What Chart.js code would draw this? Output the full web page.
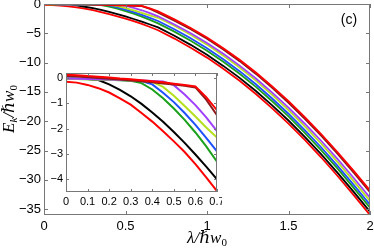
<!DOCTYPE html>
<html>
<head>
<meta charset="utf-8">
<script src="https://cdn.jsdelivr.net/npm/chart.js@4.4.1/dist/chart.umd.min.js"></script>
<style>
html, body { margin: 0; padding: 0; background: #fff; }
#wrap { position: relative; width: 374px; height: 250px; }
#mainChart { position: absolute; left: 0; top: 0; }
#insetChart { position: absolute; left: 40px; top: 68px; }
</style>
</head>
<body>
<div id="wrap">
  <canvas id="mainChart" width="374" height="250"></canvas>
  <canvas id="insetChart" width="182" height="145"></canvas>
</div>
<script>
// lambda / (hbar w0)
const lam = [0, 0.05, 0.1, 0.15, 0.2, 0.25, 0.3, 0.35, 0.4, 0.45, 0.5, 0.55, 0.6, 0.65, 0.7,
             0.8, 0.9, 1.0, 1.1, 1.2, 1.3, 1.4, 1.5, 1.6, 1.7, 1.8, 1.9, 2.0];

// E_k / (hbar w0), one array per curve
const redTop = [0.13, 0.11, 0.08, 0.05, 0.02, -0.02, -0.05, -0.09, -0.13, -0.17, -0.22, -0.27, -0.33, -0.75, -1.27,
                -2.62, -4.1, -5.72, -7.54, -9.51, -11.69, -14.06, -16.58, -19.31, -22.18, -25.25, -28.48, -31.8];
const brown = [0.08, 0.06, 0.03, 0.0, -0.03, -0.06, -0.1, -0.13, -0.17, -0.21, -0.25, -0.3, -0.37, -0.85, -1.47,
               -2.83, -4.31, -5.94, -7.77, -9.75, -11.93, -14.32, -16.85, -19.58, -22.46, -25.54, -28.77, -32.1];
const purple = [-0.02, -0.03, -0.04, -0.05, -0.06, -0.07, -0.08, -0.1, -0.12, -0.14, -0.28, -0.65, -1.07, -1.55, -2.1,
                -3.49, -4.99, -6.65, -8.5, -10.51, -12.71, -15.12, -17.67, -20.43, -23.33, -26.44, -29.69, -33.05];
const yellow = [-0.03, -0.04, -0.05, -0.06, -0.07, -0.08, -0.1, -0.12, -0.15, -0.35, -0.7, -1.1, -1.52, -1.95, -2.35,
                -3.71, -5.24, -6.93, -8.81, -10.84, -13.07, -15.51, -18.09, -20.87, -23.8, -26.94, -30.22, -33.6];
const blue = [-0.02, -0.03, -0.04, -0.05, -0.06, -0.08, -0.1, -0.12, -0.25, -0.58, -0.95, -1.38, -1.85, -2.36, -2.9,
              -4.32, -5.85, -7.54, -9.42, -11.46, -13.7, -16.13, -18.72, -21.51, -24.44, -27.58, -30.86, -34.25];
const green = [-0.03, -0.04, -0.05, -0.06, -0.07, -0.09, -0.11, -0.2, -0.45, -0.8, -1.2, -1.65, -2.15, -2.7, -3.3,
               -4.72, -6.27, -7.96, -9.86, -11.9, -14.14, -16.59, -19.18, -21.97, -24.92, -28.06, -31.36, -34.75];
const black = [-0.03, -0.03, -0.04, -0.08, -0.25, -0.47, -0.72, -1.02, -1.36, -1.73, -2.13, -2.56, -3.02, -3.5, -4.0,
               -5.42, -6.97, -8.66, -10.56, -12.6, -14.84, -17.29, -19.88, -22.67, -25.62, -28.76, -32.06, -35.45];
const redLow = [-0.15, -0.18, -0.27, -0.4, -0.57, -0.8, -1.05, -1.38, -1.72, -2.1, -2.5, -2.92, -3.4, -3.92, -4.47,
                -5.9, -7.45, -9.15, -11.05, -13.1, -15.35, -17.8, -20.4, -23.2, -26.15, -29.3, -32.6, -36.0];

// tick labels
const mainXTicks = [0, 0.5, 1, 1.5, 2];
const mainYTicks = [0, -5, -10, -15, -20, -25, -30, -35];
const insetXTicks = [0, 0.1, 0.2, 0.3, 0.4, 0.5, 0.6, 0.7];
const insetYTicks = [0, -1, -2, -3, -4];

const curves = [
  [redTop, '#ff0000'],
  [brown, '#8c1a1a'],
  [purple, '#a040ff'],
  [yellow, '#b4e01e'],
  [blue, '#1e50ff'],
  [green, '#1aa01a'],
  [black, '#000000'],
  [redLow, '#ff0000']
];

function makeDatasets(width) {
  return curves.map(c => ({
    data: lam.map((x, i) => ({ x: x, y: c[0][i] })),
    borderColor: c[1],
    borderWidth: width,
    pointRadius: 0,
    tension: 0,
    fill: false
  }));
}

function fmt(v) {
  return String(v).replace('-', '\u2212');
}

const sans = '"Liberation Sans", Arial, Helvetica, sans-serif';
const serif = '"Liberation Serif", "DejaVu Serif", serif';

// box round the plot with ticks pointing inwards
const boxTicks = {
  id: 'boxTicks',
  beforeDatasetsDraw(chart, args, opts) {
    if (!opts.fill) return;
    const a = chart.chartArea, ctx = chart.ctx;
    ctx.save();
    ctx.fillStyle = '#fff';
    ctx.fillRect(a.left, a.top, a.right - a.left, a.bottom - a.top);
    ctx.restore();
  },
  afterDraw(chart, args, opts) {
    const { ctx, chartArea: a, scales } = chart;
    const len = opts.len || 4;
    ctx.save();
    ctx.strokeStyle = '#777';
    ctx.lineWidth = 1;
    ctx.strokeRect(Math.round(a.left) + 0.5, Math.round(a.top) + 0.5,
                   Math.round(a.right - a.left) - 1, Math.round(a.bottom - a.top) - 1);
    ctx.beginPath();
    scales.x.ticks.forEach(t => {
      const px = Math.round(scales.x.getPixelForValue(t.value)) + 0.5;
      ctx.moveTo(px, a.bottom); ctx.lineTo(px, a.bottom - len);
      ctx.moveTo(px, a.top); ctx.lineTo(px, a.top + len);
    });
    scales.y.ticks.forEach(t => {
      const py = Math.round(scales.y.getPixelForValue(t.value)) + 0.5;
      ctx.moveTo(a.left, py); ctx.lineTo(a.left + len, py);
      ctx.moveTo(a.right, py); ctx.lineTo(a.right - len, py);
    });
    ctx.stroke();
    ctx.restore();
  }
};

// draws text pieces with subscripts, centred on x
function drawPieces(ctx, pieces, cx, baseY) {
  let total = 0;
  pieces.forEach(p => { ctx.font = p.font; p.w = ctx.measureText(p.t).width; total += p.w; });
  let x = cx - total / 2;
  pieces.forEach(p => {
    ctx.font = p.font;
    ctx.fillText(p.t, x, baseY + (p.dy || 0));
    x += p.w;
  });
}

const labels = {
  id: 'labels',
  afterDraw(chart) {
    const ctx = chart.ctx;
    const big = 'italic 17px ' + serif;
    const subI = 'italic 11px ' + serif;
    const subU = '11px ' + serif;
    ctx.save();
    ctx.fillStyle = '#000';
    ctx.textBaseline = 'alphabetic';
    drawPieces(ctx, [
      { t: '\u03bb/\u210fw', font: big },
      { t: '0', font: subU, dy: 3 }
    ], 207, 243);
    ctx.translate(14, 109);
    ctx.rotate(-Math.PI / 2);
    drawPieces(ctx, [
      { t: 'E', font: big },
      { t: 'k', font: subI, dy: 3 },
      { t: '/\u210fw', font: big },
      { t: '0', font: subU, dy: 3 }
    ], 0, 0);
    ctx.restore();
    ctx.save();
    ctx.fillStyle = '#000';
    ctx.font = '14px ' + sans;
    ctx.textAlign = 'center';
    ctx.textBaseline = 'middle';
    ctx.fillText('(c)', 349, 20);
    ctx.restore();
  }
};

function axis(min, max, tickList, size, pad, font) {
  return {
    type: 'linear',
    min: min,
    max: max,
    afterBuildTicks: s => { s.ticks = tickList.map(v => ({ value: v })); },
    afterFit: s => {
      if (s.isHorizontal()) { s.height = size; s.paddingLeft = 0; s.paddingRight = 0; }
      else { s.width = size; s.paddingTop = 0; s.paddingBottom = 0; }
    },
    ticks: { padding: pad, color: '#000', font: { family: sans, size: font }, maxRotation: 0, autoSkip: false, callback: fmt },
    grid: { display: false, drawTicks: false },
    border: { display: false }
  };
}

new Chart(document.getElementById('mainChart'), {
  type: 'scatter',
  data: { datasets: makeDatasets(1.8) },
  options: {
    responsive: false,
    animation: false,
    showLine: true,
    layout: { padding: { top: 4, right: 4, left: 0, bottom: 0 } },
    scales: {
      x: axis(0, 2, mainXTicks, 35, 4, 13),
      y: axis(-36, 0, mainYTicks, 44, 3, 13)
    },
    plugins: { legend: { display: false }, tooltip: { enabled: false }, boxTicks: { len: 4 } }
  },
  plugins: [boxTicks, labels]
});

new Chart(document.getElementById('insetChart'), {
  type: 'scatter',
  data: { datasets: makeDatasets(2) },
  options: {
    responsive: false,
    animation: false,
    showLine: true,
    layout: { padding: { top: 5, right: 5, left: 0, bottom: 0 } },
    scales: {
      x: axis(0, 0.7, insetXTicks, 21, 3, 11),
      y: axis(-4.5, 0.2, insetYTicks, 26, 3, 11)
    },
    plugins: { legend: { display: false }, tooltip: { enabled: false }, boxTicks: { len: 3, fill: true } }
  },
  plugins: [boxTicks]
});
</script>
</body>
</html>
